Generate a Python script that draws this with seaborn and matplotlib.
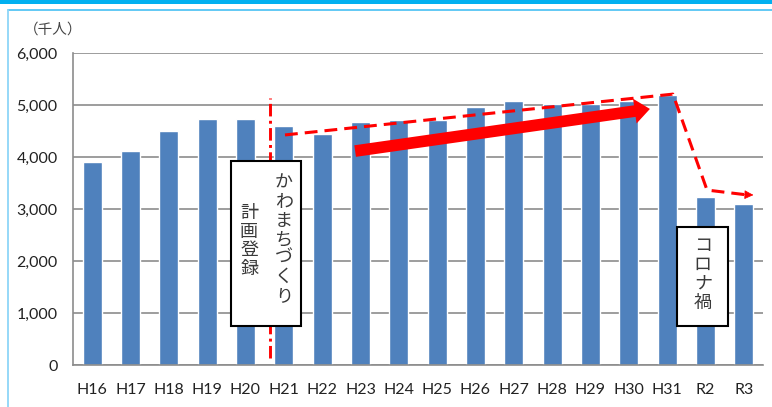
import matplotlib
matplotlib.use("Agg")
import matplotlib.pyplot as plt
import matplotlib.ticker as mticker
from matplotlib.patches import Rectangle, FancyArrowPatch
from matplotlib.lines import Line2D
import seaborn as sns

years = ["H16", "H17", "H18", "H19", "H20", "H21", "H22", "H23", "H24",
         "H25", "H26", "H27", "H28", "H29", "H30", "H31", "R2", "R3"]
visitors = [3910, 4120, 4510, 4730, 4730, 4595, 4440, 4670, 4710,
            4715, 4965, 5085, 5020, 5020, 5085, 5195, 3235, 3100]

bar_color = "#4F81BD"
grid_color = "#8C8C8C"
red = "#FF0000"
jp = ["Noto Sans CJK JP", "DejaVu Sans"]

sns.set_style("white")
plt.rcParams["font.family"] = ["Lato", "Noto Sans CJK JP", "DejaVu Sans"]

fig = plt.figure(figsize=(7.72, 4.07), dpi=100)
ax = fig.add_axes([73 / 772, 1 - 365.3 / 407, 690 / 772, 312 / 407])

sns.barplot(x=years, y=visitors, color=bar_color, width=0.5,
            saturation=1, ax=ax, zorder=2)

ax.set_xlim(-0.5, len(years) - 0.5)
ax.set_ylim(0, 6000)
ax.yaxis.set_major_locator(mticker.MultipleLocator(1000))
ax.yaxis.set_major_formatter(mticker.StrMethodFormatter("{x:,.0f}"))
ax.yaxis.grid(True, color=grid_color, linewidth=1.2)
ax.set_axisbelow(True)
ax.set_xlabel("")
ax.set_ylabel("")

for side in ["top", "right"]:
    ax.spines[side].set_visible(False)
for side in ["left", "bottom"]:
    ax.spines[side].set_color(grid_color)
    ax.spines[side].set_linewidth(1.2)

ax.set_xticks(range(len(years)))
ax.set_xticklabels(years)
ax.set_xticks([i - 0.5 for i in range(len(years) + 1)], minor=True)
ax.tick_params(axis="x", which="major", length=0, pad=13,
               labelsize=11.5, labelcolor="#222222")
ax.tick_params(axis="x", which="minor", length=5, width=1.2,
               color=grid_color, direction="out")
ax.tick_params(axis="y", length=5, width=1.2, color=grid_color,
               labelsize=11.5, labelcolor="#222222", pad=6)

fig.text(24 / 772, 1 - 30 / 407, "（千人）", family=jp, fontsize=10.5,
         color="#444444", va="center")

# vertical dash-dot marker
ax.plot([4.63, 4.63], [140, 5140], color=red, lw=2.1,
        dashes=(4.3, 1.5, 1, 1.5), zorder=3)

# dashed trend path
path_x = [5.03, 15.15, 16.04, 17.05]
path_y = [4430, 5215, 3370, 3280]
ax.plot(path_x, path_y, color=red, lw=2.2, dashes=(4.2, 2.3), zorder=4,
        solid_joinstyle="miter")
ax.annotate("", xy=(17.25, 3275), xytext=(17.0, 3282),
            arrowprops=dict(arrowstyle="-|>", color=red, lw=0.5,
                            mutation_scale=14, shrinkA=0, shrinkB=0),
            zorder=4)

# thick arrow
ax.add_patch(FancyArrowPatch((6.86, 4120), (14.55, 4930),
                             arrowstyle="simple,head_width=0.9,head_length=0.55,tail_width=0.42",
                             mutation_scale=20, color=red, lw=0,
                             shrinkA=0, shrinkB=0, zorder=5))

# annotation boxes
ax.add_patch(Rectangle((3.62, 756), 1.83, 3173, facecolor="white",
                       edgecolor="black", lw=1.5, zorder=6))
ax.text(5.0, 3680, "\n".join("かわまちづくり"), family=jp, fontsize=13,
        color="#3a3a3a", ha="center", va="top", linespacing=1.06, zorder=7)
ax.text(4.1, 3100, "\n".join("計画登録"), family=jp, fontsize=13,
        color="#3a3a3a", ha="center", va="top", linespacing=1.05, zorder=7)

ax.add_patch(Rectangle((15.26, 756), 1.33, 1904, facecolor="white",
                       edgecolor="black", lw=1.5, zorder=6))
ax.text(15.93, 2460, "\n".join("コロナ禍"), family=jp, fontsize=13,
        color="#3a3a3a", ha="center", va="top", linespacing=1.05, zorder=7)

# page frame
fig.add_artist(Rectangle((0, 1 - 4 / 407), 1, 4 / 407, transform=fig.transFigure,
                         facecolor="#00B0F0", edgecolor="none"))
fig.add_artist(Line2D([7.5 / 772, 1], [1 - 9.5 / 407, 1 - 9.5 / 407],
                      transform=fig.transFigure, color="#55C5F5", lw=1.3))
fig.add_artist(Line2D([7.5 / 772, 7.5 / 772], [0, 1 - 9.5 / 407],
                      transform=fig.transFigure, color="#8ED6F8", lw=1.3))

fig.savefig("out.png", dpi=100)
